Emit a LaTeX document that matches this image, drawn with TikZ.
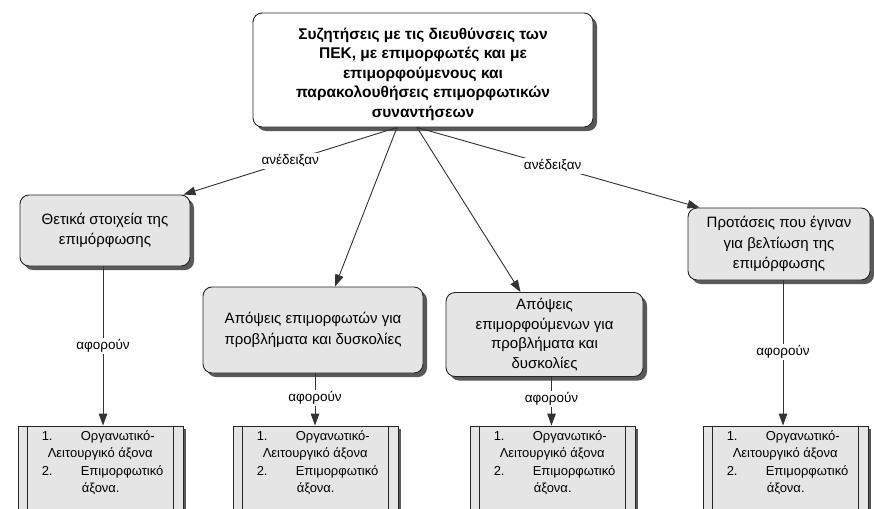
\documentclass[tikz,border=0pt]{standalone}
\usepackage{fontspec}
\setmainfont{Liberation Sans}
\usetikzlibrary{arrows.meta,calc,shadows}
\begin{document}
\begin{tikzpicture}[x=1pt,y=-1pt,
  shad/.style={drop shadow={shadow xshift=4pt,shadow yshift=-4pt,fill=black!65,opacity=1}},
  box/.style={draw=black!85, line width=0.9pt, rounded corners=9pt, fill=black!10, shad,
    align=center, inner sep=0pt, font=\fontsize{15}{20.5}\selectfont},
  topbox/.style={box, fill=white},
  toptext/.style={align=center, inner sep=0pt, font=\bfseries\fontsize{15.5}{19.5}\selectfont},
  ebox/.style={draw=black!85, line width=0.9pt, fill=black!10,
    drop shadow={shadow xshift=3pt,shadow yshift=-3pt,fill=black!65,opacity=1},
    minimum width=165pt, minimum height=100pt, inner sep=0pt},
  btext/.style={inner sep=0pt, font=\fontsize{13}{17.5}\selectfont},
  conn/.style={draw=black!80, line width=0.9pt, -{Triangle[length=12pt,width=8.5pt]}},
  lab/.style={fill=white, inner sep=1.5pt, font=\fontsize{13.5}{15}\selectfont}]
\clip (0,0) rectangle (874,508);
\fill[white] (0,0) rectangle (874,508);

\node[topbox, minimum width=340pt, minimum height=114pt] (top) at (423,70) {};
\node[toptext] (toptxt) at ([yshift=-4pt]top.center)
  {Συζητήσεις με τις διευθύνσεις των\\ΠΕΚ, με επιμορφωτές και με\\επιμορφούμενους και\\παρακολουθήσεις επιμορφωτικών\\συναντήσεων};

\node[box, minimum width=170pt, minimum height=71pt] (A) at (105,230.5)
  {Θετικά στοιχεία της\\επιμόρφωσης};
\node[box, minimum width=220pt, minimum height=86pt] (B) at (313,330)
  {Απόψεις επιμορφωτών για\\προβλήματα και δυσκολίες};
\node[box, minimum width=197pt, minimum height=84pt, font=\fontsize{15}{19.5}\selectfont] (C) at (544.5,334.5)
  {\rule{0pt}{6pt}Απόψεις\\επιμορφούμενων για\\προβλήματα και\\δυσκολίες};
\node[box, minimum width=182pt, minimum height=72pt] (D) at (779,244)
  {Προτάσεις που έγιναν\\για βελτίωση της\\επιμόρφωσης};

\foreach \n/\x in {E1/100.5,E2/315.5,E3/552.5,E4/785.5}{
  \node[ebox] (\n) at (\x,476) {};
  \draw[draw=black!85, line width=0.9pt] ([xshift=10pt]\n.north west) -- ([xshift=10pt]\n.south west);
  \draw[draw=black!85, line width=0.9pt] ([xshift=-10pt]\n.north east) -- ([xshift=-10pt]\n.south east);
  \node[btext, anchor=north west] (T\n) at ([shift={(24pt,-2pt)}]\n.north west)
    {\begin{tabular}{@{}p{39pt}@{}l@{}}
      1. & Οργανωτικό-\\
      \multicolumn{2}{@{\hspace{6pt}}l@{}}{Λειτουργικό άξονα}\\
      2. & Επιμορφωτικό\\
       & \hspace{1pt}άξονα.
     \end{tabular}};
}

\draw[conn] ([xshift=-26pt]top.south) -- node[lab, pos=0.5] (l1) {ανέδειξαν} ([xshift=-7pt]A.north east);
\draw[conn] ([xshift=-26pt]top.south) -- ([xshift=22pt]B.north);
\draw[conn] ([xshift=-6pt]top.south) -- ([xshift=-24pt]C.north);
\draw[conn] ([xshift=-6pt]top.south) -- node[lab, pos=0.48] (l2) {ανέδειξαν} ([xshift=12pt]D.north west);

\draw[conn] ([xshift=-2pt]A.south) -- node[lab, pos=0.5] (l3) {αφορούν} ([xshift=-2pt]A.south |- E1.north);
\draw[conn] ([xshift=2pt]B.south) -- node[lab, pos=0.47] (l4) {αφορούν} ([xshift=2pt]B.south |- E2.north);
\draw[conn] ([xshift=7pt]C.south) -- node[lab, pos=0.45] (l5) {αφορούν} ([xshift=7pt]C.south |- E3.north);
\draw[conn] ([xshift=4pt]D.south) -- node[lab, pos=0.49] (l6) {αφορούν} ([xshift=4pt]D.south |- E4.north);
\end{tikzpicture}
\end{document}
